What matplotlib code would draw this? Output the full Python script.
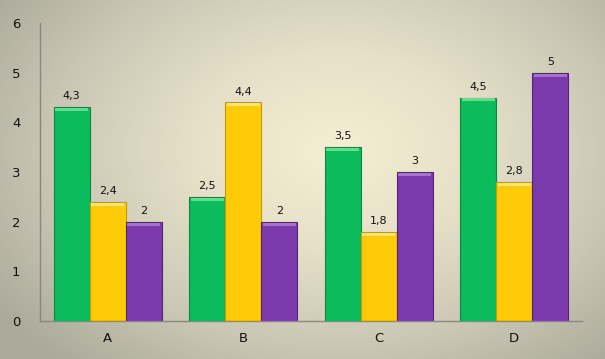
import numpy as np
import matplotlib
matplotlib.use('Agg')
import matplotlib.pyplot as plt
from matplotlib.colors import LinearSegmentedColormap

categories = ['A', 'B', 'C', 'D']
green_vals = [4.3, 2.5, 3.5, 4.5]
yellow_vals = [2.4, 4.4, 1.8, 2.8]
purple_vals = [2.0, 2.0, 3.0, 5.0]

series = [green_vals, yellow_vals, purple_vals]
colors = ['#0BBB5C', '#FFCA08', '#7A3AAB']
edges = ['#078A42', '#C89A00', '#55237F']
tops = ['#5BE08E', '#FFE46A', '#A66FD0']

fig = plt.figure(figsize=(6.05, 3.59), dpi=100)

# radial background, light spot a bit above centre
bg = fig.add_axes([0, 0, 1, 1])
yy, xx = np.mgrid[0:359, 0:605]
d = np.sqrt(((xx - 335) / 430.0) ** 2 + ((yy - 150) / 300.0) ** 2)
cmap = LinearSegmentedColormap.from_list(
    'bg', [(0.0, '#F4EED4'), (0.35, '#E6E0C8'), (0.7, '#C9C6B4'), (1.0, '#ACAA9A')])
bg.imshow(d, cmap=cmap, vmin=0.0, vmax=0.95, aspect='auto')
bg.axis('off')

ax = fig.add_axes([40 / 605, 1 - 321 / 359, 542 / 605, 298 / 359])
ax.patch.set_alpha(0)

x = np.arange(len(categories))
w = 0.266
for i, vals in enumerate(series):
    pos = x + (i - 1) * w
    ax.bar(pos, vals, w, color=colors[i], edgecolor=edges[i], linewidth=0.8, zorder=2)
    # light top bevel
    ax.bar(pos, [0.06] * len(vals), w * 0.92, bottom=[v - 0.08 for v in vals],
           color=tops[i], linewidth=0, zorder=3)
    for p, v in zip(pos, vals):
        lbl = ('%g' % v).replace('.', ',')
        ax.text(p, v + 0.12, lbl, ha='center', va='bottom', fontsize=8, color='#111111')

ax.set_xlim(-0.5, 3.5)
ax.set_ylim(0, 6)
ax.set_yticks(range(7))
ax.set_xticks(x)
ax.set_xticklabels(categories)
ax.tick_params(axis='both', length=0, labelsize=9.5, colors='#111111')
ax.tick_params(axis='y', pad=14)
ax.tick_params(axis='x', pad=8)
for s in ['top', 'right']:
    ax.spines[s].set_visible(False)
for s in ['left', 'bottom']:
    ax.spines[s].set_color('#8A887E')
    ax.spines[s].set_linewidth(1)

fig.savefig('out.png', dpi=100)
